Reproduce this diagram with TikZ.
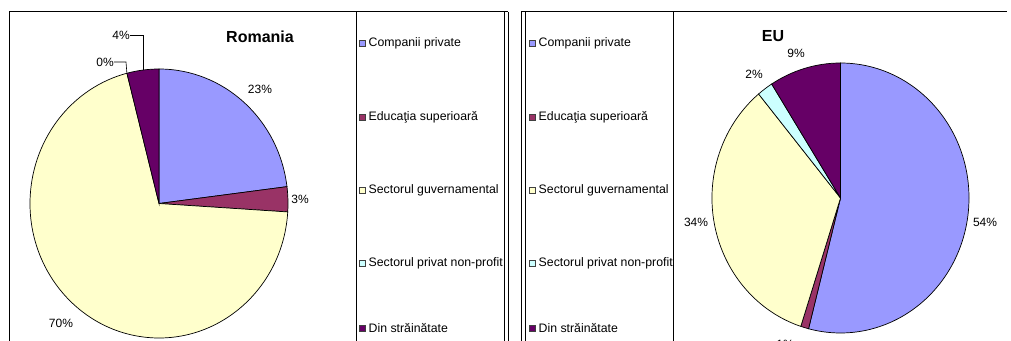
\documentclass[tikz,border=0pt]{standalone}
\usepackage{fontspec}
\setmainfont{Liberation Sans}
\definecolor{cpriv}{HTML}{9999FF}
\definecolor{edusup}{HTML}{993366}
\definecolor{sgov}{HTML}{FFFFCC}
\definecolor{snp}{HTML}{CCFFFF}
\definecolor{strain}{HTML}{660066}
\begin{document}
\begin{tikzpicture}[x=1pt, y=1pt,
    pct/.style={font=\fontsize{12}{14}\selectfont, inner sep=0pt},
    ttl/.style={font=\fontsize{16}{19}\selectfont\bfseries, inner sep=0pt},
    leg/.style={font=\fontsize{12.3}{14}\selectfont, inner sep=0pt, anchor=west},
    legbox/.style={draw=black!75, line width=0.6pt, minimum size=6pt, inner sep=0pt},
    wedge/.style={draw=black, line width=0.7pt},
    frame/.style={draw=black, line width=1pt}]
    \useasboundingbox (0,0) rectangle (1011,340);

    % Frames:
    % left chart (Romania) with its legend column
    \draw[frame] (9,-5) -- (9,328) -- (508,328);
    \draw[frame] (356,-5) -- (356,328);
    \draw[frame] (504,-5) -- (504,328);
    \draw[frame] (508,-5) -- (508,328);
    % right chart (EU), legend first
    \draw[frame] (521,-5) -- (521,328) -- (1007,328);
    \draw[frame] (525,-5) -- (525,328);
    \draw[frame] (673,-5) -- (673,328);

    % Romania pie
    \coordinate (RO) at (159,136.5);
    \filldraw[wedge,fill=cpriv]  (RO) -- ++(90:129 and 134.5)
        arc[start angle=90, end angle=7.2, x radius=129, y radius=134.5] -- cycle;
    \filldraw[wedge,fill=edusup] (RO) -- ++(7.2:129 and 134.5)
        arc[start angle=7.2, end angle=-3.6, x radius=129, y radius=134.5] -- cycle;
    \filldraw[wedge,fill=sgov]   (RO) -- ++(-3.6:129 and 134.5)
        arc[start angle=-3.6, end angle=-255.6, x radius=129, y radius=134.5] -- cycle;
    \filldraw[wedge,fill=strain] (RO) -- ++(104.4:129 and 134.5)
        arc[start angle=104.4, end angle=90, x radius=129, y radius=134.5] -- cycle;

    \node[ttl] (tRO) at (260,303) {Romania};
    \node[pct] (ro23) at (260,251) {23\%};
    \node[pct] (ro3)  at (300,141) {3\%};
    \node[pct] (ro70) at (61,17)   {70\%};
    \node[pct] (ro4)  at (121,305) {4\%};
    \node[pct] (ro0)  at (105,278) {0\%};
    % leader lines of the small slices
    \coordinate (ro4a) at (143,305);
    \coordinate (ro4b) at (143,270);
    \coordinate (ro0a) at (126,278);
    \coordinate (ro0b) at (126.9,266.8);
    \draw[line width=0.6pt] (ro4.east) -- (ro4a) -- (ro4b);
    \draw[line width=0.6pt] (ro0.east) -- (ro0a) -- (ro0b);

    % EU pie
    \coordinate (EU) at (840.5,142);
    \filldraw[wedge,fill=cpriv]  (EU) -- ++(90:128.5 and 135)
        arc[start angle=90, end angle=-104.4, x radius=128.5, y radius=135] -- cycle;
    \filldraw[wedge,fill=edusup] (EU) -- ++(-104.4:128.5 and 135)
        arc[start angle=-104.4, end angle=-108, x radius=128.5, y radius=135] -- cycle;
    \filldraw[wedge,fill=sgov]   (EU) -- ++(-108:128.5 and 135)
        arc[start angle=-108, end angle=-230.4, x radius=128.5, y radius=135] -- cycle;
    \filldraw[wedge,fill=snp]    (EU) -- ++(-230.4:128.5 and 135)
        arc[start angle=-230.4, end angle=-237.6, x radius=128.5, y radius=135] -- cycle;
    \filldraw[wedge,fill=strain] (EU) -- ++(-237.6:128.5 and 135)
        arc[start angle=-237.6, end angle=-270, x radius=128.5, y radius=135] -- cycle;

    \node[ttl] (tEU) at (773,304) {EU};
    \node[pct] (eu54) at (985,118) {54\%};
    \node[pct] (eu9)  at (796,287) {9\%};
    \node[pct] (eu2)  at (754,266) {2\%};
    \node[pct] (eu34) at (696,118) {34\%};
    \node[pct] (eu1)  at (785,-4)  {1\%};

    % Legends: same entries in both charts
    \begin{scope}
    \clip (356,0) rectangle (504,328);
    \foreach \c/\t/\y [count=\i] in {cpriv/Companii private/297, edusup/Educaţia superioară/223,
        sgov/Sectorul guvernamental/150, snp/Sectorul privat non-profit/77, strain/Din străinătate/12}{%
        \node[legbox,fill=\c] (boxRO\i) at (362,\y) {};
        \node[leg] (legRO\i) at (368.5,\y) {\t};
    }
    \end{scope}
    \begin{scope}
    \clip (525,0) rectangle (673,328);
    \foreach \c/\t/\y [count=\i] in {cpriv/Companii private/297, edusup/Educaţia superioară/223,
        sgov/Sectorul guvernamental/150, snp/Sectorul privat non-profit/77, strain/Din străinătate/12}{%
        \node[legbox,fill=\c] (boxEU\i) at (532,\y) {};
        \node[leg] (legEU\i) at (538.5,\y) {\t};
    }
    \end{scope}
\end{tikzpicture}
\end{document}
